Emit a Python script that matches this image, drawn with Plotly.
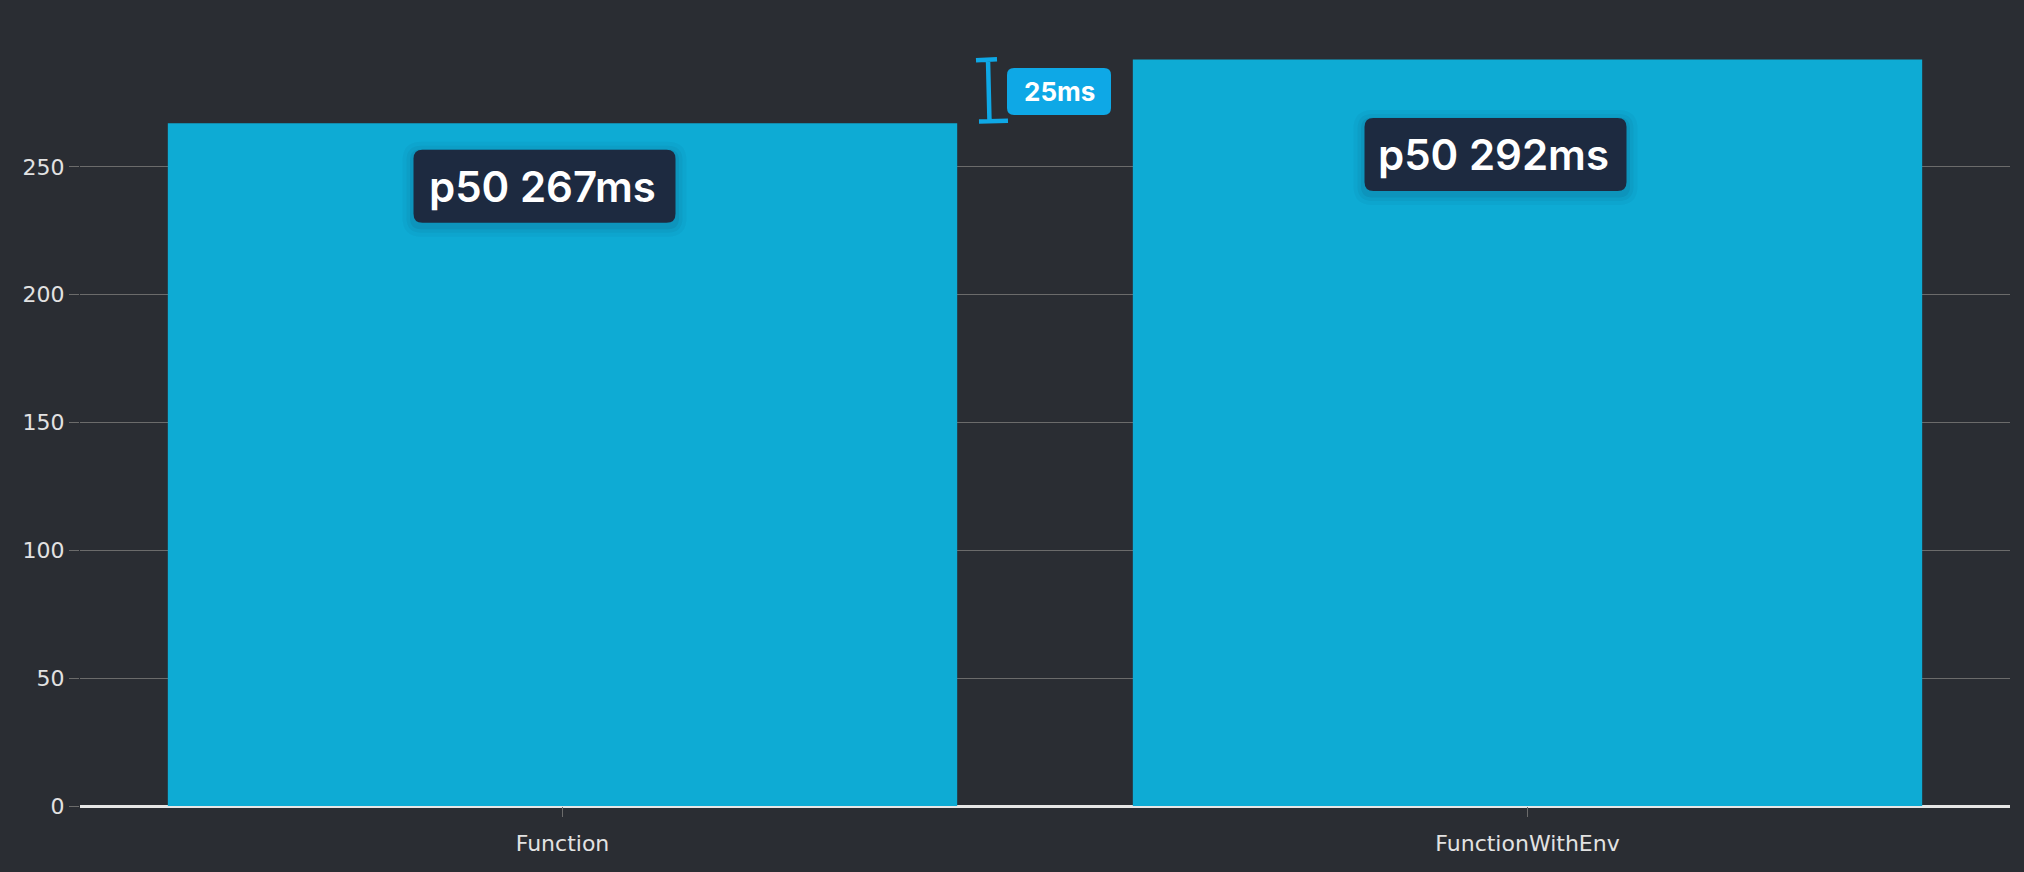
import plotly.graph_objects as go

# ---------------- data ----------------
categories = ["Function", "FunctionWithEnv"]
p50_ms = [267, 292]
y_tickvals = [0, 50, 100, 150, 200, 250]
y_range = [0, 300]

# ---------------- style ----------------
BG = "#2a2d33"
BAR = "#0eabd4"
GRID = "#6b6b6b"
ZERO = "#e6e6e6"
TICKFONT = "#e2e2e2"
LABEL_BG = "#1d2a40"
ACCENT = "#0ea8e6"

# pixel offsets of the value boxes relative to each bar's top-centre
label_dx = [-18, -32]
label_dy = [-63, -95]
LABEL_W, LABEL_H = 262, 73


def rrect(cx, cy, w, h, r):
    """Rounded rectangle path in pixel units (y up) centred at cx, cy."""
    l, rt = cx - w / 2, cx + w / 2
    b, t = cy - h / 2, cy + h / 2
    return (
        f"M {l + r},{t} L {rt - r},{t} Q {rt},{t} {rt},{t - r} "
        f"L {rt},{b + r} Q {rt},{b} {rt - r},{b} "
        f"L {l + r},{b} Q {l},{b} {l},{b + r} "
        f"L {l},{t - r} Q {l},{t} {l + r},{t} Z"
    )


fig = go.Figure(
    go.Bar(
        x=categories,
        y=p50_ms,
        width=0.818,
        marker=dict(color=BAR, line=dict(width=0)),
        hoverinfo="skip",
    )
)

shapes = []
annotations = []

# value boxes on each bar
for i, v in enumerate(p50_ms):
    dx, dy = label_dx[i], label_dy[i]
    # soft shadow
    for grow, alpha in [(22, 0.035), (14, 0.05), (7, 0.07)]:
        shapes.append(dict(
            type="path", xref="x", yref="y", xsizemode="pixel", ysizemode="pixel",
            xanchor=i, yanchor=v,
            path=rrect(dx, dy - 3, LABEL_W + grow, LABEL_H + grow, 8 + grow / 2),
            fillcolor=f"rgba(10,30,50,{alpha})", line=dict(width=0), layer="above",
        ))
    shapes.append(dict(
        type="path", xref="x", yref="y", xsizemode="pixel", ysizemode="pixel",
        xanchor=i, yanchor=v,
        path=rrect(dx, dy, LABEL_W, LABEL_H, 9),
        fillcolor=LABEL_BG, line=dict(width=0), layer="above",
    ))
    annotations.append(dict(
        x=i, y=v, xref="x", yref="y", xshift=dx - 2, yshift=dy,
        text=f"p50 {v}ms", showarrow=False,
        font=dict(family="Inter, Roboto, sans-serif", size=42, color="#ffffff", weight=600),
        xanchor="center", yanchor="middle",
    ))

# difference bracket between the two bars
mid_x = (0 + len(categories) - 1) / 2
lo, hi = min(p50_ms), max(p50_ms)
diff = hi - lo
shapes.append(dict(
    type="path", xref="x", yref="y", xsizemode="pixel", ysizemode="scaled",
    xanchor=mid_x,
    path=(f"M -69,{hi - 0.3} L -48,{hi + 0.1} "
          f"M -57,{hi} L -55.5,{lo + 0.4} "
          f"M -66,{lo + 0.7} L -37,{lo + 1.0}"),
    line=dict(color=ACCENT, width=4.5), layer="above",
))
# difference badge
shapes.append(dict(
    type="path", xref="x", yref="y", xsizemode="pixel", ysizemode="pixel",
    xanchor=mid_x, yanchor=(lo + hi) / 2,
    path=rrect(14, 0, 104, 47, 7),
    fillcolor=ACCENT, line=dict(width=0), layer="above",
))
annotations.append(dict(
    x=mid_x, y=(lo + hi) / 2, xref="x", yref="y", xshift=14, yshift=0,
    text=f"{diff}ms", showarrow=False,
    font=dict(family="Inter, Roboto, sans-serif", size=26, color="#ffffff", weight=700),
    xanchor="center", yanchor="middle",
))

fig.update_layout(
    width=2024,
    height=872,
    margin=dict(l=80, r=14, t=39, b=66, pad=0),
    paper_bgcolor=BG,
    plot_bgcolor=BG,
    showlegend=False,
    shapes=shapes,
    annotations=annotations,
    bargap=0.182,
    xaxis=dict(
        type="category",
        range=[-0.5, len(categories) - 0.5],
        showgrid=False,
        zeroline=False,
        showline=False,
        ticks="outside",
        ticklen=10,
        tickwidth=1,
        tickcolor=GRID,
        ticklabelstandoff=8,
        tickfont=dict(family="DejaVu Sans", size=22, color=TICKFONT),
        fixedrange=True,
    ),
    yaxis=dict(
        range=y_range,
        tickvals=y_tickvals,
        showgrid=True,
        gridcolor=GRID,
        gridwidth=1,
        zeroline=True,
        zerolinecolor=ZERO,
        zerolinewidth=3,
        showline=False,
        ticks="outside",
        ticklen=10,
        tickwidth=1,
        tickcolor=GRID,
        tickfont=dict(family="DejaVu Sans", size=22, color=TICKFONT),
        fixedrange=True,
    ),
)

fig.write_html(
    "out.html",
    config={"displayModeBar": False},
    post_script="document.body.style.margin='0';document.body.style.overflow='hidden';",
)
